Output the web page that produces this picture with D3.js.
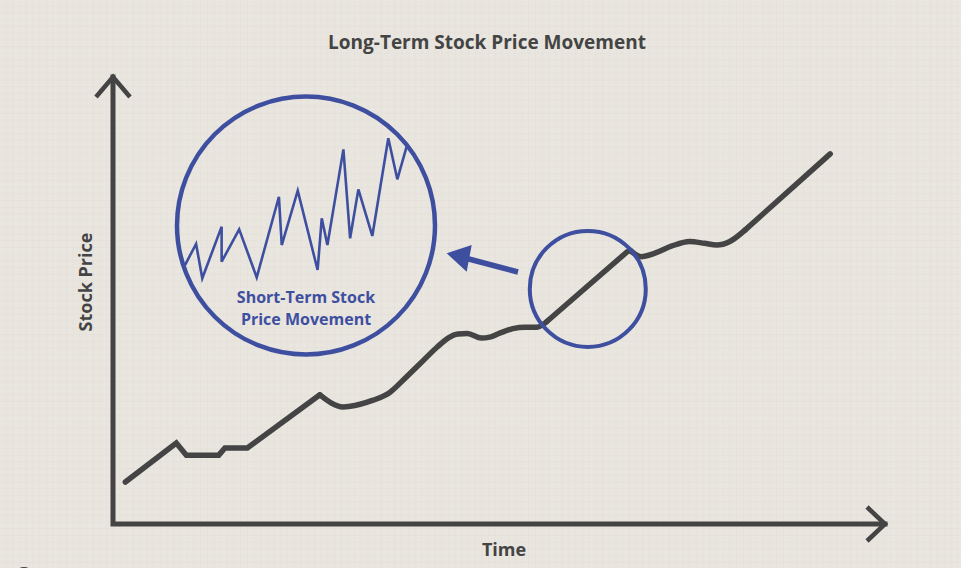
<!DOCTYPE html>
<html>
<head>
<meta charset="utf-8">
<script src="https://cdn.jsdelivr.net/npm/d3@7"></script>
<style>
  body { margin: 0; background: #e8e4dd; }
  text { font-family: "Open Sans", Lato, sans-serif; font-weight: 700; }
</style>
</head>
<body>
<script>
// dados de entrada: preco de longo prazo (tempo 0-100, preco 0-100)
var tempoLongo = [1.6, 8.2, 9.5, 13.7, 14.5, 17.4, 26.8, 29.8, 32.0, 33.7, 35.9, 38.0,
  39.8, 42.0, 43.4, 44.7, 45.9, 47.7, 48.8, 50.1, 51.8, 53.4, 54.9, 56.2, 66.6, 67.0,
  68.4, 70.2, 72.4, 74.7, 76.6, 78.2, 79.9, 81.9, 92.9]
var precoLongo = [9.4, 18.1, 15.4, 15.4, 17.0, 17.0, 28.9, 26.2, 26.8, 27.7, 29.5, 32.9,
  35.9, 39.6, 41.6, 42.5, 42.6, 41.6, 41.8, 42.7, 43.7, 44.0, 44.0, 45.3, 60.9, 61.2,
  59.8, 60.6, 62.2, 63.2, 62.8, 62.4, 63.2, 65.8, 82.8]
// trechos da linha: [inicio, fim, suave?]
var trechos = [[0, 6, false], [6, 23, true], [23, 25, false], [25, 33, true], [33, 34, false]]

// dados do zoom de curto prazo
var tempoCurto = [3.1, 7.4, 9.8, 17.3, 17.3, 24.1, 30.9, 39.5, 40.6, 46.8, 54.5, 56.1,
  58.3, 64.5, 67.1, 70.3, 75.7, 81.9, 85.4, 89.0]
var precoCurto = [15.6, 28.8, 7.3, 39.6, 17.7, 37.9, 7.9, 58.3, 28.1, 62.1, 12.5, 44.8,
  28.1, 87.9, 32.3, 62.9, 33.8, 94.8, 69.2, 89.6]

// textos
var titulo = 'Long-Term Stock Price Movement'
var rotuloX = 'Time'
var rotuloY = 'Stock Price'
var rotuloZoom = ['Short-Term Stock', 'Price Movement']

var largura = 961
var altura = 568
var cinza = '#444444'
var azul = '#3e4fa0'

var svg = d3.select('body').append('svg')
  .attr('width', largura)
  .attr('height', altura)

// fundo quadriculado
var padrao = svg.append('defs').append('pattern')
  .attr('id', 'grade')
  .attr('width', 6.7).attr('height', 6.7)
  .attr('patternUnits', 'userSpaceOnUse')
padrao.append('rect').attr('width', 6.7).attr('height', 6.7).attr('fill', '#e9e5df')
padrao.append('path').attr('d', 'M6.7 0V6.7H0')
  .attr('fill', 'none').attr('stroke', '#ddd8d0').attr('stroke-width', 0.6)
svg.append('rect').attr('width', largura).attr('height', altura).attr('fill', 'url(#grade)')

// escalas do grafico principal
var x = d3.scaleLinear().domain([0, 100]).range([113, 885])
var y = d3.scaleLinear().domain([0, 100]).range([524, 77])

// eixos com setas
var eixos = svg.append('g').attr('stroke', cinza).attr('fill', 'none')
  .attr('stroke-width', 5)
eixos.append('path')
  .attr('d', d3.line()([[x(0), y(100)], [x(0), y(0)], [x(100), y(0)]]))
  .attr('stroke-linejoin', 'miter').attr('stroke-linecap', 'square')
eixos.append('path')
  .attr('d', d3.line()([[x(0) - 17, y(100) + 20], [x(0), y(100)], [x(0) + 17, y(100) + 20]]))
  .attr('stroke-width', 4.5)
eixos.append('path')
  .attr('d', d3.line()([[x(100) - 18, y(0) - 17], [x(100), y(0)], [x(100) - 18, y(0) + 17]]))
  .attr('stroke-width', 4.5)

// linha de longo prazo, em trechos
var dadosLongo = tempoLongo.map(function (t, i) { return {t: t, p: precoLongo[i]} })
var linhaReta = d3.line().x(function (d) { return x(d.t) }).y(function (d) { return y(d.p) })
var linhaSuave = d3.line().x(function (d) { return x(d.t) }).y(function (d) { return y(d.p) })
  .curve(d3.curveMonotoneX)
trechos.forEach(function (tr) {
  var pedaco = dadosLongo.slice(tr[0], tr[1] + 1)
  svg.append('path')
    .attr('d', (tr[2] ? linhaSuave : linhaReta)(pedaco))
    .attr('fill', 'none').attr('stroke', cinza).attr('stroke-width', 5.5)
    .attr('stroke-linejoin', 'miter').attr('stroke-linecap', 'round')
})

// circulo pequeno sobre a linha
svg.append('circle')
  .attr('cx', x(61.5)).attr('cy', y(52.6)).attr('r', 58)
  .attr('fill', 'none').attr('stroke', azul).attr('stroke-width', 4)

// seta apontando para o zoom
svg.append('path')
  .attr('d', d3.line()([[518, 272], [465, 258]]))
  .attr('stroke', azul).attr('stroke-width', 5.5)
svg.append('path')
  .attr('d', d3.line()([[446.7, 253.3], [471.7, 245], [466.7, 271.7]]) + 'Z')
  .attr('fill', azul)

// circulo grande com o zoom
var cx = 306, cy = 225.5, r = 129
svg.append('circle').attr('cx', cx).attr('cy', cy).attr('r', r)
  .attr('fill', 'none').attr('stroke', azul).attr('stroke-width', 4.5)

var xz = d3.scaleLinear().domain([0, 100]).range([177, 435])
var yz = d3.scaleLinear().domain([0, 100]).range([290, 130])
var dadosCurto = tempoCurto.map(function (t, i) { return {t: t, p: precoCurto[i]} })
svg.append('path')
  .attr('d', d3.line().x(function (d) { return xz(d.t) }).y(function (d) { return yz(d.p) })(dadosCurto))
  .attr('fill', 'none').attr('stroke', azul).attr('stroke-width', 2.6)
  .attr('stroke-linejoin', 'miter')

svg.append('text')
  .attr('x', cx).attr('text-anchor', 'middle')
  .attr('fill', azul).attr('font-size', 16).attr('font-weight', 600)
  .selectAll('tspan').data(rotuloZoom).enter().append('tspan')
  .attr('x', cx).attr('y', function (d, i) { return 303 + i * 22 })
  .text(function (d) { return d })

// textos
svg.append('text').attr('x', 487).attr('y', 49)
  .attr('text-anchor', 'middle').attr('fill', cinza).attr('font-size', 19)
  .text(titulo)
svg.append('text').attr('x', 504).attr('y', 556)
  .attr('text-anchor', 'middle').attr('fill', cinza).attr('font-size', 18)
  .text(rotuloX)
svg.append('text')
  .attr('transform', 'translate(92,282) rotate(-90)')
  .attr('text-anchor', 'middle').attr('fill', cinza).attr('font-size', 18)
  .text(rotuloY)

// logo cortado no canto
svg.append('circle').attr('cx', 24).attr('cy', 577).attr('r', 10).attr('fill', '#3a3a3a')
</script>
</body>
</html>
